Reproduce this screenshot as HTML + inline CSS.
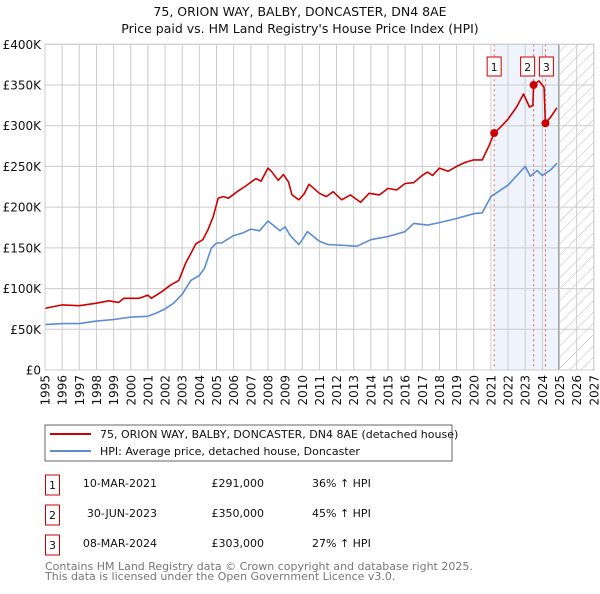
<!DOCTYPE html>
<html><head><meta charset="utf-8"><style>
body{margin:0;background:#fff;font-family:"DejaVu Sans","Liberation Sans",sans-serif;}
svg text{font-family:"DejaVu Sans","Liberation Sans",sans-serif;}
</style></head><body>
<svg id="c" width="600" height="590" xmlns="http://www.w3.org/2000/svg">
<defs><pattern id="hatch" width="8" height="8" patternUnits="userSpaceOnUse" patternTransform="rotate(45)"><line x1="0" y1="0" x2="0" y2="8" stroke="#bbb" stroke-width="1"/></pattern></defs>
<text x="300" y="16" text-anchor="middle" font-size="12.5" fill="#111">75, ORION WAY, BALBY, DONCASTER, DN4 8AE</text>
<text x="300" y="33" text-anchor="middle" font-size="12.5" fill="#111">Price paid vs. HM Land Registry's House Price Index (HPI)</text>
<g id="plot"></g>
<rect x="45" y="425" width="407" height="36" fill="#fff" stroke="#666"/>
<line x1="50" y1="434" x2="91" y2="434" stroke="#cc0000" stroke-width="2"/>
<text x="100" y="438" font-size="11" fill="#111">75, ORION WAY, BALBY, DONCASTER, DN4 8AE (detached house)</text>
<line x1="50" y1="451" x2="91" y2="451" stroke="#5b8dd0" stroke-width="2"/>
<text x="100" y="455" font-size="11" fill="#111">HPI: Average price, detached house, Doncaster</text>
<g font-size="11" fill="#111">
<rect x="45.5" y="475" width="14" height="20" fill="#fff" stroke="#cc0000"/><text x="52.5" y="489" text-anchor="middle">1</text>
<text x="157" y="487" text-anchor="end">10-MAR-2021</text><text x="264" y="487" text-anchor="end">£291,000</text><text x="312" y="487">36% ↑ HPI</text>
<rect x="45.5" y="505" width="14" height="20" fill="#fff" stroke="#cc0000"/><text x="52.5" y="519" text-anchor="middle">2</text>
<text x="157" y="517" text-anchor="end">30-JUN-2023</text><text x="264" y="517" text-anchor="end">£350,000</text><text x="312" y="517">45% ↑ HPI</text>
<rect x="45.5" y="535" width="14" height="20" fill="#fff" stroke="#cc0000"/><text x="52.5" y="549" text-anchor="middle">3</text>
<text x="157" y="547" text-anchor="end">08-MAR-2024</text><text x="264" y="547" text-anchor="end">£303,000</text><text x="312" y="547">27% ↑ HPI</text>
</g>
<text x="45" y="570" font-size="11" fill="#777">Contains HM Land Registry data © Crown copyright and database right 2025.</text>
<text x="45" y="580" font-size="11" fill="#777">This data is licensed under the Open Government Licence v3.0.</text>
</svg>
<script>
const yTicks=[0,50,100,150,200,250,300,350,400];
const xYears=[1995,1996,1997,1998,1999,2000,2001,2002,2003,2004,2005,2006,2007,2008,2009,2010,2011,2012,2013,2014,2015,2016,2017,2018,2019,2020,2021,2022,2023,2024,2025,2026,2027];
const hpiT=[1995,1996,1997,1998,1999,2000,2001,2001.5,2002,2002.5,2003,2003.5,2004,2004.3,2004.7,2005,2005.3,2006,2006.5,2007,2007.5,2007.8,2008,2008.3,2008.7,2009,2009.3,2009.8,2010,2010.3,2011,2011.5,2012,2012.5,2013.2,2014,2015,2016,2016.5,2017.3,2018,2019,2020,2020.5,2021,2022,2023,2023.3,2023.7,2024,2024.5,2024.85];
const hpiV=[55.7,57,57,60,62,65,66,70,75,82,93,110,116,125,150,156,156,165,168,173,171,178,183,178,171,176,165,154,160,170,158,154,153.5,153,152,160,164,170,180,178,181,186,192,193,213,227,250,238,245,239,246,254];
const redT=[1995,1996,1997,1998,1998.7,1999.3,1999.6,2000.5,2001,2001.2,2001.8,2002.3,2002.8,2003.2,2003.5,2003.8,2004.2,2004.5,2004.8,2005.1,2005.4,2005.7,2006.2,2006.7,2007.3,2007.6,2008,2008.2,2008.6,2008.9,2009.2,2009.4,2009.8,2010.1,2010.4,2011,2011.4,2011.8,2012.3,2012.8,2013.4,2013.9,2014.5,2015,2015.5,2016,2016.5,2017,2017.3,2017.6,2018,2018.5,2019,2019.5,2020,2020.5,2020.9,2021.19,2021.5,2022,2022.5,2022.9,2023.25,2023.45,2023.49,2023.8,2024.1,2024.18,2024.5,2024.85];
const redV=[75.7,80,79,82,85,83,88,88,92,88,96,104,110,131,143,155,160,172,188,211,213,211,219,226,235,232,248,244,233,240,231,215,209,216,228,217,213,219,209,215,206,217,215,223,221,229,230,239,243,239,248,244,250,255,258,258,276,291,297,308,323,339,323,325,350,355,347,303,311,322];
const saleT=[2021.19,2023.49,2024.18];
const saleV=[291,350,303];
const saleLabels=["1","2","3"];
const NS="http://www.w3.org/2000/svg";
const X=t=>45+(t-1995)*17.15;
const Y=v=>370-v*0.8143;
const g=document.getElementById('plot');
function mk(tag,attrs){const e=document.createElementNS(NS,tag);for(const k in attrs)e.setAttribute(k,attrs[k]);g.appendChild(e);return e;}
// shaded ownership region and hatch
let e=mk('rect',{x:X(saleT[0]),y:Y(400),width:X(2024.95)-X(saleT[0]),height:Y(0)-Y(400),fill:'#eef3fc'});


e=mk('rect',{x:X(2025),y:Y(400),width:X(2027)-X(2025),height:Y(0)-Y(400),fill:'url(#hatch)'});


yTicks.forEach(v=>{
 let l=mk('line',{x1:45,x2:X(2027),y1:Y(v),y2:Y(v),stroke:'#ccc'});
 
 
 let t=mk('text',{x:41,y:Y(v)+4.5,'text-anchor':'end','font-size':12,fill:'#111'});
 t.textContent=v===0?'£0':'£'+v+'K';
 
 
});
xYears.forEach(y=>{
 let l=mk('line',{x1:X(y),x2:X(y),y1:Y(400),y2:Y(0),stroke:'#ccc'});
 
 
 let t=mk('text',{x:0,y:0,'text-anchor':'end','font-size':12,fill:'#111',transform:`translate(${X(y)+4.5},375) rotate(-90)`});
 t.textContent=y;
 
 
});
e=mk('line',{x1:X(2024.95),x2:X(2024.95),y1:Y(400),y2:Y(0),stroke:'#999'});


saleT.forEach((t,i)=>{
 let l=mk('line',{x1:X(t),x2:X(t),y1:Y(400),y2:Y(0),stroke:'#e06060','stroke-dasharray':'2,3'});
 
 
});
function path(T,V,col,name){
 let d=T.map((t,i)=>(i?'L':'M')+X(t).toFixed(1)+','+Y(V[i]).toFixed(1)).join('');
 let p=mk('path',{d:d,fill:'none',stroke:col,'stroke-width':1.6,'stroke-linejoin':'round'});
 
 
}
path(hpiT,hpiV,'#5b8dd0','hpi-line');
path(redT,redV,'#cc0000','property-line');
saleT.forEach((t,i)=>{
 let c=mk('circle',{cx:X(t),cy:Y(saleV[i]),r:4,fill:'#cc0000'});
 
 
});
const boxX=[X(saleT[0]),X(saleT[1])-6,X(saleT[2])+1];
saleLabels.forEach((s,i)=>{
 let r=mk('rect',{x:boxX[i]-7,y:57,width:14,height:19,fill:'#fff',stroke:'#cc0000'});
 
 
 let t=mk('text',{x:boxX[i],y:71,'text-anchor':'middle','font-size':11,fill:'#111'});
 t.textContent=s;
 
 
});
e=mk('rect',{x:45,y:Y(400),width:X(2027)-45,height:Y(0)-Y(400),fill:'none',stroke:'#ccc'});


</script>
</body></html>
